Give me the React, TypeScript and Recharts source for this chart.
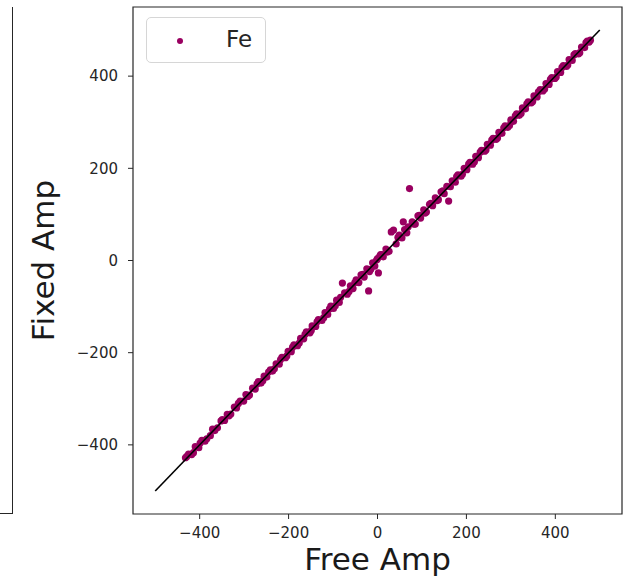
import React from "react";
import {
  ScatterChart,
  Scatter,
  XAxis,
  YAxis,
  ReferenceArea,
  Legend,
  Label,
} from "recharts";

// free-fit amplitude vs fixed-fit amplitude, Fe
const freeAmp = [
  -432, -425, -418, -410, -402, -395, -388, -376, -371, -360, -352, -344, -338, -330, -322, -317,
  -309, -301, -296, -288, -281, -275, -268, -262, -255, -249, -241, -236, -228, -221, -215, -207,
  -201, -194, -188, -180, -173, -166, -160, -152, -147, -139, -133, -125, -118, -112, -105, -99,
  -92, -86, -79, -74, -68, -61, -55, -48, -42, -37, -30, -24, -20, -18, -11, -6, 0, 2, 5, 7, 13,
  19, 26, 31, 36, 42, 49, 55, 58, 61, 66, 72, 78, 85, 91, 97, 104, 110, 117, 124, 130, 137, 143,
  150, 156, 160, 168, 175, 181, 188, 195, 201, 208, 214, 221, 227, 234, 241, 247, 254, 260, 267,
  273, 280, 287, 293, 300, 306, 313, 319, 326, 333, 339, 346, 352, 359, 366, 372, 379, 386, 392,
  399, 405, 412, 418, 425, 431, 438, 445, 452, 459, 466, 472, 479,
  -429, -414, -399, -384, -366, -349, -334, -313, -292, -271, -258, -245, -232, -218, -204, -191,
  -176, -163, -149, -136, -121, -108, -95, -83, -64, -51, -33, -15, -2, 10, 22, 46, 69, 82, 94,
  107, 120, 134, 147, 164, 178, 191, 205, 218, 231, 244, 257, 270, 284, 297, 310, 323, 336, 349,
  362, 376, 389, 402, 415, 428, 442, 455, 469, 476,
];
const fixedAmp = [
  -428, -420, -421, -404, -406, -390, -392, -380, -366, -363, -348, -347, -334, -333, -318, -320,
  -305, -305, -291, -292, -277, -279, -263, -266, -251, -253, -237, -240, -224, -225, -210, -211,
  -197, -198, -183, -185, -169, -170, -155, -157, -142, -143, -128, -130, -113, -117, -99, -104,
  -86, -91, -49, -70, -73, -55, -61, -42, -48, -31, -36, -18, -66, -24, -5, -12, 4, -27, 9, 13, 8,
  25, 20, 62, 66, 36, 55, 49, 84, 67, 60, 156, 84, 79, 97, 92, 110, 105, 122, 119, 136, 132, 149,
  145, 161, 129, 173, 170, 186, 183, 200, 197, 213, 209, 226, 223, 239, 237, 252, 250, 265, 263,
  278, 276, 292, 289, 305, 302, 318, 315, 331, 329, 344, 342, 357, 355, 371, 368, 384, 382, 397,
  395, 410, 408, 423, 421, 436, 434, 449, 448, 463, 462, 476, 478,
  -425, -417, -396, -387, -369, -345, -337, -310, -295, -268, -261, -242, -235, -215, -207, -188,
  -179, -160, -152, -133, -124, -105, -98, -80, -67, -48, -30, -19, 1, 13, 18, 50, 73, 79, 98,
  103, 124, 130, 151, 160, 182, 187, 209, 214, 235, 240, 261, 266, 288, 293, 314, 319, 340, 345,
  366, 372, 393, 398, 419, 424, 446, 451, 473, 474,
];
// the y = x reference line
const lineX = [-500, 500];
const lineY = [-500, 500];
const axisTicks = [-400, -200, 0, 200, 400];
const seriesName = "Fe";

const points = freeAmp.map((x, i) => ({ x, y: fixedAmp[i] }));
const diagonal = lineX.map((x, i) => ({ x, y: lineY[i] }));

const fmt = (v: number) => String(v).replace("-", "\u2212");
const tickStyle = { fontSize: 15, fill: "#262626", fontFamily: "DejaVu Sans" };

const Dot = (props: any) => <circle cx={props.cx} cy={props.cy} r={3.6} fill="#990060" />;
const NoDot = () => <g />;

const FeLegend = () => (
  <div
    style={{
      width: 120,
      height: 46,
      border: "1px solid #d6d6d6",
      borderRadius: 5,
      background: "#fff",
      boxSizing: "border-box",
      position: "relative",
      fontFamily: "DejaVu Sans",
    }}
  >
    <span
      style={{
        position: "absolute",
        left: 30,
        top: 20,
        width: 6,
        height: 6,
        borderRadius: 3,
        background: "#990060",
      }}
    />
    <span style={{ position: "absolute", left: 79, top: 8, fontSize: 23, color: "#262626" }}>
      {seriesName}
    </span>
  </div>
);

export default function App() {
  return (
    <div style={{ position: "absolute", left: 0, top: 0, width: 631, height: 583, background: "#fff" }}>
      {/* edge of the neighbouring panel */}
      <div
        style={{
          position: "absolute",
          left: 0,
          top: 7,
          width: 13,
          height: 507,
          borderRight: "1.2px solid #262626",
          borderBottom: "1.2px solid #262626",
          boxSizing: "border-box",
        }}
      />
      <ScatterChart width={631} height={583} margin={{ top: 7, right: 9, left: 0, bottom: 0 }}>
        <XAxis
          type="number"
          dataKey="x"
          domain={[-550, 550]}
          ticks={axisTicks}
          tickFormatter={fmt}
          axisLine={false}
          tickLine={{ stroke: "#262626" }}
          tickSize={5}
          tickMargin={8}
          tick={tickStyle}
          height={69}
          allowDataOverflow
        >
          <Label
            value="Free Amp"
            position="insideBottom"
            offset={13}
            style={{ fontSize: 31, fill: "#1a1a1a", fontFamily: "DejaVu Sans" }}
          />
        </XAxis>
        <YAxis
          type="number"
          dataKey="y"
          domain={[-550, 550]}
          ticks={axisTicks}
          tickFormatter={fmt}
          axisLine={false}
          tickLine={{ stroke: "#262626" }}
          tickSize={5}
          tickMargin={10}
          tick={tickStyle}
          width={133}
          allowDataOverflow
        >
          <Label
            value="Fixed Amp"
            angle={-90}
            position="insideLeft"
            offset={43}
            style={{ fontSize: 31, fill: "#1a1a1a", fontFamily: "DejaVu Sans", textAnchor: "middle" }}
          />
        </YAxis>
        <ReferenceArea
          x1={-550}
          x2={550}
          y1={-550}
          y2={550}
          fill="none"
          fillOpacity={0}
          stroke="#262626"
          strokeWidth={1.2}
          ifOverflow="visible"
        />
        <Scatter name={seriesName} data={points} shape={Dot} isAnimationActive={false} />
        <Scatter
          name="y = x"
          data={diagonal}
          shape={NoDot}
          line={{ stroke: "#000", strokeWidth: 1.6 }}
          isAnimationActive={false}
          legendType="none"
        />
        <Legend
          layout="horizontal"
          verticalAlign="middle"
          align="center"
          content={() => <FeLegend />}
          wrapperStyle={{ position: "absolute", left: 146, top: 17, width: 120, height: 46 }}
        />
      </ScatterChart>
    </div>
  );
}
